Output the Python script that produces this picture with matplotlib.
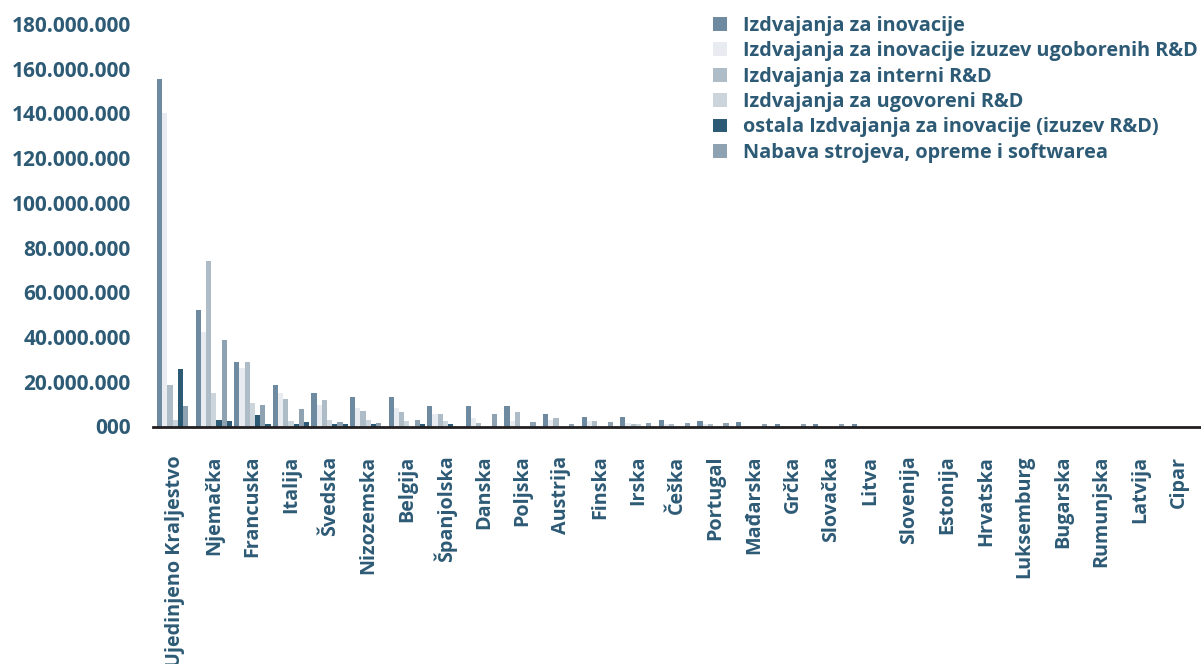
import numpy as np
import matplotlib
matplotlib.use("Agg")
import matplotlib.pyplot as plt
from matplotlib.ticker import FuncFormatter, MultipleLocator

countries = ["Ujedinjeno Kraljestvo", "Njemačka", "Francuska", "Italija", "Švedska",
             "Nizozemska", "Belgija", "Španjolska", "Danska", "Poljska", "Austrija",
             "Finska", "Irska", "Češka", "Portugal", "Mađarska", "Grčka", "Slovačka",
             "Litva", "Slovenija", "Estonija", "Hrvatska", "Luksemburg", "Bugarska",
             "Rumunjska", "Latvija", "Cipar"]

# values in millions
izdvajanja_inovacije = [155.4, 51.9, 28.7, 18.4, 14.9, 13.1, 13.1, 9.1, 9.1, 9.1, 5.6,
                        4.2, 4.2, 2.9, 2.4, 2.0, 1.1, 1.1, 1.1, 0, 0, 0, 0, 0, 0, 0, 0]
izdvajanja_bez_ugovorenih = [140.0, 42.1, 26.0, 14.9, 9.6, 8.2, 8.2, 5.6, 3.8, 2.4, 2.9,
                             2.4, 1.6, 1.1, 1.1, 0, 0, 0, 0, 0, 0, 0, 0, 0, 0, 0, 0]
interni_rd = [18.4, 73.8, 28.7, 12.2, 11.8, 6.9, 6.4, 5.6, 1.6, 6.4, 3.8,
              2.4, 1.1, 1.1, 1.1, 0, 0, 0, 0, 0, 0, 0, 0, 0, 0, 0, 0]
ugovoreni_rd = [2.9, 14.9, 10.4, 2.4, 2.9, 2.9, 2.4, 2.4, 0, 0, 0,
                0, 1.1, 0, 0, 0, 0, 0, 0, 0, 0, 0, 0, 0, 0, 0, 0]
ostala_izdvajanja = [25.6, 2.9, 5.1, 1.1, 1.1, 1.1, 0, 1.1, 0, 0, 0,
                     0, 0, 0, 0, 0, 0, 0, 0, 0, 0, 0, 0, 0, 0, 0, 0]
nabava_strojeva = [9.1, 38.6, 9.6, 7.8, 2.0, 1.6, 2.9, 0, 5.6, 2.0, 1.1,
                   2.0, 1.6, 1.6, 1.6, 1.1, 1.1, 1.1, 0, 0, 0, 0, 0, 0, 0, 0, 0]
ostalo = [0, 2.4, 1.1, 2.0, 1.1, 0, 1.1, 0, 0, 0, 0,
          0, 0, 0, 0, 0, 0, 0, 0, 0, 0, 0, 0, 0, 0, 0, 0]

series = [
    ("Izdvajanja za inovacije", izdvajanja_inovacije, "#6e8aa0"),
    ("Izdvajanja za inovacije izuzev ugoborenih R&D", izdvajanja_bez_ugovorenih, "#e8ebf0"),
    ("Izdvajanja za interni R&D", interni_rd, "#adbcc7"),
    ("Izdvajanja za ugovoreni R&D", ugovoreni_rd, "#cdd5dc"),
    ("ostala Izdvajanja za inovacije (izuzev R&D)", ostala_izdvajanja, "#2d5a75"),
    ("Nabava strojeva, opreme i softwarea", nabava_strojeva, "#8ea2b1"),
    ("_ostalo", ostalo, "#2d5a75"),
]

text_color = "#2d5a75"
plt.rcParams["font.family"] = ["Open Sans", "DejaVu Sans"]
plt.rcParams["font.weight"] = "bold"

fig = plt.figure(figsize=(12.01, 6.64), dpi=100)
ax = fig.add_axes([153 / 1201, (664 - 426.5) / 664, 1 - 153 / 1201, (426.5 - 24) / 664])

x = np.arange(len(countries))
n = len(series)
w = 0.135
for i, (name, vals, col) in enumerate(series):
    ax.bar(x + (i - (n - 1) / 2) * w, np.array(vals) * 1e6, width=w, color=col,
           label=name, linewidth=0, zorder=2)

ax.set_xlim(-0.575, len(countries) - 0.425)
ax.set_ylim(0, 180e6)
ax.yaxis.set_major_locator(MultipleLocator(20e6))


def fmt(v, pos):
    if v == 0:
        return "000"
    return f"{v:,.0f}".replace(",", ".")


ax.yaxis.set_major_formatter(FuncFormatter(fmt))
ax.set_xticks(x)
ax.set_xticklabels(countries, rotation=90, va="top", ha="center")

for s in ("top", "right", "left"):
    ax.spines[s].set_visible(False)
ax.spines["bottom"].set_color("#231f20")
ax.spines["bottom"].set_linewidth(2.0)
ax.spines["bottom"].set_zorder(3)

ax.tick_params(axis="x", length=0, pad=21, labelsize=14.2, labelcolor=text_color)
ax.tick_params(axis="y", length=0, pad=16, labelsize=15, labelcolor=text_color)

handles, labels = ax.get_legend_handles_labels()
leg = fig.legend(handles, labels, loc="upper left", bbox_to_anchor=(713 / 1201, 1 - 16 / 664),
                 frameon=False, fontsize=14.3, handlelength=0.7, handleheight=0.7,
                 handletextpad=0.8, labelspacing=0.27, borderaxespad=0, borderpad=0)
for t in leg.get_texts():
    t.set_color(text_color)
    t.set_fontweight("bold")

fig.savefig("out.png", dpi=100)
